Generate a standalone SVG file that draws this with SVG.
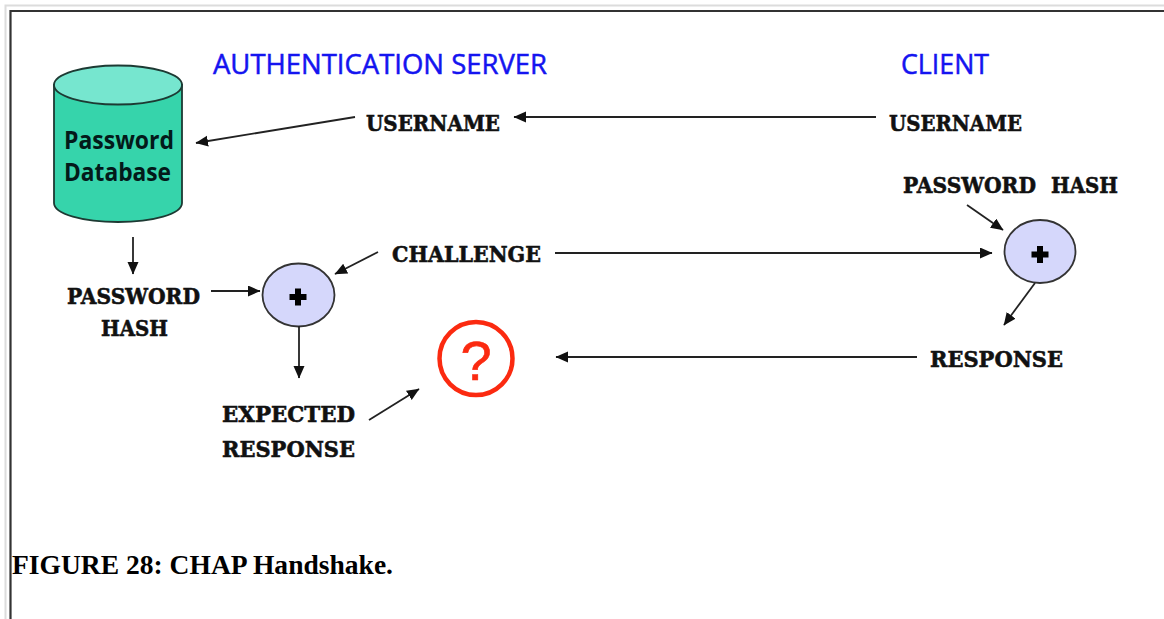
<svg xmlns="http://www.w3.org/2000/svg" width="1164" height="619" viewBox="0 0 1164 619">
<style>
.m{font-family:"DejaVu Serif",serif;font-weight:bold;font-size:23px;fill:#111;stroke:#111;stroke-width:.6}
.h{font-family:"Open Sans","Liberation Sans",sans-serif;font-size:27px;fill:#1414f0;stroke:#1414f0;stroke-width:.5}
.c{fill:none;stroke:#222;stroke-width:1.8;marker-end:url(#a)}
.o{fill:#d5d7fb;stroke:#333;stroke-width:1.8}
.d{font-family:"Open Sans","Liberation Sans",sans-serif;font-weight:bold;font-size:25px;fill:#031a1a}
.x{stroke:#000;stroke-width:6;fill:none}
</style>
<defs><marker id="a" markerUnits="userSpaceOnUse" markerWidth="14" markerHeight="12" refX="12" refY="5.500" orient="auto"><path d="M0 0L12.500 5.500L0 11Z" fill="#111"/></marker></defs>
<rect width="1164" height="619" fill="#fff"/>
<path d="M5.500 619V5.500H1164" fill="none" stroke="#dcdcdc" stroke-width="2"/>
<path d="M10.500 619V11H1164" fill="none" stroke="#333" stroke-width="2.200"/>
<g id="database">
<path d="M54 85V203C54 214 83 222 118 222S182 214 182 203V85Z" fill="#36d4ab" stroke="#1d3a33" stroke-width="1.800"/>
<ellipse cx="118" cy="85" rx="64" ry="19.500" fill="#76e6cf" stroke="#1d3a33" stroke-width="1.800"/>
<text class="d" x="64" y="149" textLength="110" lengthAdjust="spacingAndGlyphs">Password</text>
<text class="d" x="64" y="181" textLength="107" lengthAdjust="spacingAndGlyphs">Database</text>
</g>
<g id="heading-server"><text class="h" x="213" y="74" textLength="334" lengthAdjust="spacingAndGlyphs">AUTHENTICATION SERVER</text></g>
<g id="heading-client"><text class="h" x="901" y="74" textLength="88" lengthAdjust="spacingAndGlyphs">CLIENT</text></g>
<g id="username-server"><text class="m" x="366" y="131" textLength="134" lengthAdjust="spacingAndGlyphs">USERNAME</text></g>
<g id="username-client"><text class="m" x="889" y="131" textLength="133" lengthAdjust="spacingAndGlyphs">USERNAME</text></g>
<g id="password-hash-client"><text class="m" y="193"><tspan x="903" textLength="133" lengthAdjust="spacingAndGlyphs">PASSWORD</tspan> <tspan x="1051" textLength="67" lengthAdjust="spacingAndGlyphs">HASH</tspan></text></g>
<g id="challenge"><text class="m" x="392" y="262" textLength="149" lengthAdjust="spacingAndGlyphs">CHALLENGE</text></g>
<g id="password-hash-server"><text class="m" x="67" y="304" textLength="133" lengthAdjust="spacingAndGlyphs">PASSWORD</text><text class="m" x="101" y="336" textLength="67" lengthAdjust="spacingAndGlyphs">HASH</text></g>
<g id="response-client"><text class="m" x="930" y="367" textLength="133" lengthAdjust="spacingAndGlyphs">RESPONSE</text></g>
<g id="expected-response"><text class="m" x="222" y="422" textLength="133" lengthAdjust="spacingAndGlyphs">EXPECTED</text><text class="m" x="222" y="457" textLength="133" lengthAdjust="spacingAndGlyphs">RESPONSE</text></g>
<g id="xor-server"><ellipse class="o" cx="298.500" cy="295" rx="36" ry="31.500"/><path class="x" d="M298 288.500V305.500M289.500 297H306.500"/></g>
<g id="xor-client"><ellipse class="o" cx="1040" cy="251.500" rx="35.500" ry="31.500"/><path class="x" d="M1040 246V263M1031.500 254.500H1048.500"/></g>
<g id="compare"><circle cx="476" cy="358.500" r="36.500" fill="#fff" stroke="#fb2a10" stroke-width="4.500"/><text x="476" y="380" font-family="Liberation Sans,sans-serif" font-size="56" fill="#fb2a10" stroke="#fb2a10" stroke-width=".6" text-anchor="middle">?</text></g>
<g id="connectors">
<path class="c" d="M355 117L196 143"/>
<path class="c" d="M876 117H514"/>
<path class="c" d="M133 237V274"/>
<path class="c" d="M211 291H260"/>
<path class="c" d="M378 252L335 274"/>
<path class="c" d="M555 253H992"/>
<path class="c" d="M967 205L1003 230"/>
<path class="c" d="M1035 283L1004 325"/>
<path class="c" d="M299 326V378"/>
<path class="c" d="M917 357H556"/>
<path class="c" d="M369 420L419 389"/>
</g>
<g id="caption"><text x="12" y="574" font-family="Liberation Serif,serif" font-weight="bold" font-size="27px" fill="#000" textLength="381" lengthAdjust="spacingAndGlyphs">FIGURE 28: CHAP Handshake.</text></g>
</svg>
